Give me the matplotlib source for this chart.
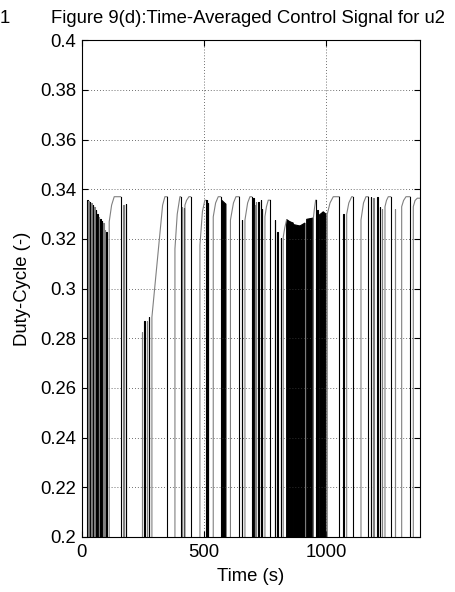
import matplotlib
matplotlib.use("Agg")
import matplotlib.pyplot as plt

# narrow on/off spikes: start time (s), level, drawn grey?
spike_t = [21.7, 26.6, 32.7, 38.9, 45.0, 51.2, 57.3, 63.4, 69.6, 75.7, 81.8, 87.2,
           94.1, 100.3, 169.0, 178.8, 245.5, 255.8, 266.0, 274.2, 408.0, 416.2,
           510.3, 515.5, 653.5, 701.0, 707.9, 712.0, 721.4, 731.2, 736.6, 789.8,
           799.2, 813.1, 962.9, 1069.3, 1181.4, 1192.0, 1208.4, 1219.4, 1226.3, 1280.8]
spike_y = [0.3356, 0.3352, 0.3349, 0.3343, 0.3336, 0.3329, 0.3316, 0.3300, 0.3290, 0.3280, 0.3272, 0.3265,
           0.3235, 0.3229, 0.3336, 0.3340, 0.2825, 0.2870, 0.2870, 0.2885, 0.3330, 0.3325,
           0.3356, 0.3345, 0.3276, 0.3366, 0.3336, 0.3349, 0.3350, 0.3356, 0.3320, 0.3276,
           0.3229, 0.3202, 0.3316, 0.3300, 0.3370, 0.3366, 0.3370, 0.3330, 0.3320, 0.3320]
spike_gray = [0, 1, 0, 1, 0, 1, 0, 0, 1, 0, 0, 1,
              1, 0, 1, 0, 1, 0, 1, 0, 1, 0,
              0, 0, 0, 0, 1, 1, 0, 0, 0, 0,
              0, 0, 0, 0, 0, 1, 0, 0, 1, 1]

# ramps: switch on, knee, reach top, hold, switch off
ramp_on_t = [111.7, 286.4, 380.6, 421.5, 482.9, 537.3, 607.7, 667.0, 748.8, 823.7, 946.5,
             1003.8, 1083.2, 1141.7, 1239.9, 1308.2, 1355.7]
ramp_on_y = [0.3269, 0.2885, 0.3160, 0.3336, 0.3175, 0.3289, 0.3276, 0.3276, 0.3290, 0.3208, 0.3280,
             0.3300, 0.3300, 0.3276, 0.3330, 0.3330, 0.3330]
ramp_knee_t = [121.5, 330.2, 390.0, 428.0, 493.0, 547.0, 620.0, 678.0, 755.0, 830.0, 951.0,
               1015.0, 1092.0, 1152.0, 1246.0, 1316.0, 1363.0]
ramp_knee_y = [0.3336, 0.3336, 0.3300, 0.3355, 0.3310, 0.3345, 0.3345, 0.3345, 0.3330, 0.3245, 0.3320,
               0.3345, 0.3345, 0.3345, 0.3355, 0.3355, 0.3355]
ramp_top_t = [132.2, 339.6, 401.0, 437.8, 503.0, 557.7, 630.2, 687.5, 762.4, 837.6, 956.3,
              1028.3, 1103.6, 1162.1, 1253.4, 1325.8, 1372.1]
ramp_top_y = [0.3370, 0.3370, 0.3370, 0.3370, 0.3356, 0.3370, 0.3370, 0.3370, 0.3356, 0.3278, 0.3356,
              0.3370, 0.3370, 0.3370, 0.3370, 0.3370, 0.3364]
ramp_off_t = [158.4, 349.1, 403.9, 444.8, 506.0, 567.6, 643.7, 694.4, 769.3, 840.0, 958.0,
              1052.9, 1107.7, 1171.5, 1263.2, 1342.2, 1390.0]

# solid black stretches where switching is too fast to resolve
block_t0 = [571.6, 837.6, 851.1, 864.6, 892.1, 919.5, 971.1, 987.4]
block_t1 = [589.2, 851.1, 864.6, 892.1, 912.5, 946.5, 987.4, 998.4]
block_y0 = [0.3356, 0.3278, 0.3269, 0.3258, 0.3252, 0.3279, 0.3296, 0.3309]
block_y1 = [0.3340, 0.3269, 0.3264, 0.3252, 0.3264, 0.3284, 0.3309, 0.3300]

yticks = [0.2, 0.22, 0.24, 0.26, 0.28, 0.3, 0.32, 0.34, 0.36, 0.38, 0.4]
ytick_labels = ['0.2', '0.22', '0.24', '0.26', '0.28', '0.3', '0.32', '0.34', '0.36', '0.38', '0.4']
xticks = [0, 500, 1000]

GREY = '#808080'
SPIKE_W = 1.5
FS = 13.3
plt.rcParams['font.family'] = ['Liberation Sans', 'DejaVu Sans']

fig = plt.figure(figsize=(4.55, 5.92), dpi=100)
ax = fig.add_axes([0.180, 0.093, 0.743, 0.839])

for t, y, g in zip(spike_t, spike_y, spike_gray):
    ax.plot([t, t, t + SPIKE_W, t + SPIKE_W], [0, y, y, 0],
            color=GREY if g else 'k', lw=0.8)

for i in range(len(ramp_on_t)):
    ts = [ramp_on_t[i], ramp_on_t[i], ramp_knee_t[i], ramp_top_t[i], ramp_off_t[i]]
    ys = [0, ramp_on_y[i], ramp_knee_y[i], ramp_top_y[i], ramp_top_y[i]]
    ax.plot(ts, ys, color=GREY, lw=0.8)
    ax.plot([ramp_off_t[i], ramp_off_t[i]], [ramp_top_y[i], 0], color='k', lw=0.8)

for t0, t1, y0, y1 in zip(block_t0, block_t1, block_y0, block_y1):
    ax.fill([t0, t0, t1, t1], [0, y0, y1, 0], color='k', lw=0.8)

ax.set_xlim(0, 1383)
ax.set_ylim(0.2, 0.4)
ax.set_xticks(xticks)
ax.set_yticks(yticks)
ax.set_yticklabels(ytick_labels)
ax.grid(True, color='#404040', linestyle=(0, (1, 2.5)), lw=0.6)
ax.tick_params(direction='in', top=True, right=True, length=4, labelsize=FS)
ax.tick_params(axis='x', pad=5)
ax.tick_params(axis='y', pad=4)
for s in ax.spines.values():
    s.set_linewidth(0.8)

ax.set_xlabel('Time (s)', fontsize=FS)
ax.xaxis.set_label_coords(0.5, -0.062)
ax.set_ylabel('Duty-Cycle (-)', fontsize=FS)
ax.yaxis.set_label_coords(-0.15, 0.5)
fig.text(0.546, 0.968, 'Figure 9(d):Time-Averaged Control Signal for u2',
         ha='center', va='center', fontsize=FS)
fig.text(0.0, 0.968, '1', ha='left', va='center', fontsize=FS)

fig.savefig('out.png', dpi=100)
